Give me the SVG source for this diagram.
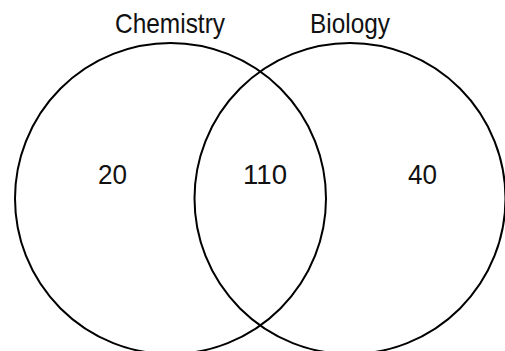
<svg xmlns="http://www.w3.org/2000/svg" width="505" height="351" viewBox="0 0 505 351">
<style>
.set{fill:none;stroke:#000;stroke-width:2}
.t{font-family:"Liberation Sans",Arial,sans-serif;font-size:28px;fill:#111;text-anchor:middle}
</style>
<rect width="505" height="351" fill="#fff"/>
<g id="chemistry">
<circle class="set" cx="170.5" cy="198.5" r="155.5"/>
<text class="t" x="170" y="33" textLength="110" lengthAdjust="spacingAndGlyphs">Chemistry</text>
</g>
<g id="biology">
<circle class="set" cx="350" cy="198.5" r="155.5"/>
<text class="t" x="350" y="33" textLength="80" lengthAdjust="spacingAndGlyphs">Biology</text>
</g>
<g id="only-chemistry"><text class="t" x="112.5" y="184" textLength="29" lengthAdjust="spacingAndGlyphs">20</text></g>
<g id="both"><text class="t" x="265" y="183.5" textLength="44" lengthAdjust="spacingAndGlyphs">110</text></g>
<g id="only-biology"><text class="t" x="422.5" y="184" textLength="29" lengthAdjust="spacingAndGlyphs">40</text></g>
<g id="connectors"/>
</svg>
